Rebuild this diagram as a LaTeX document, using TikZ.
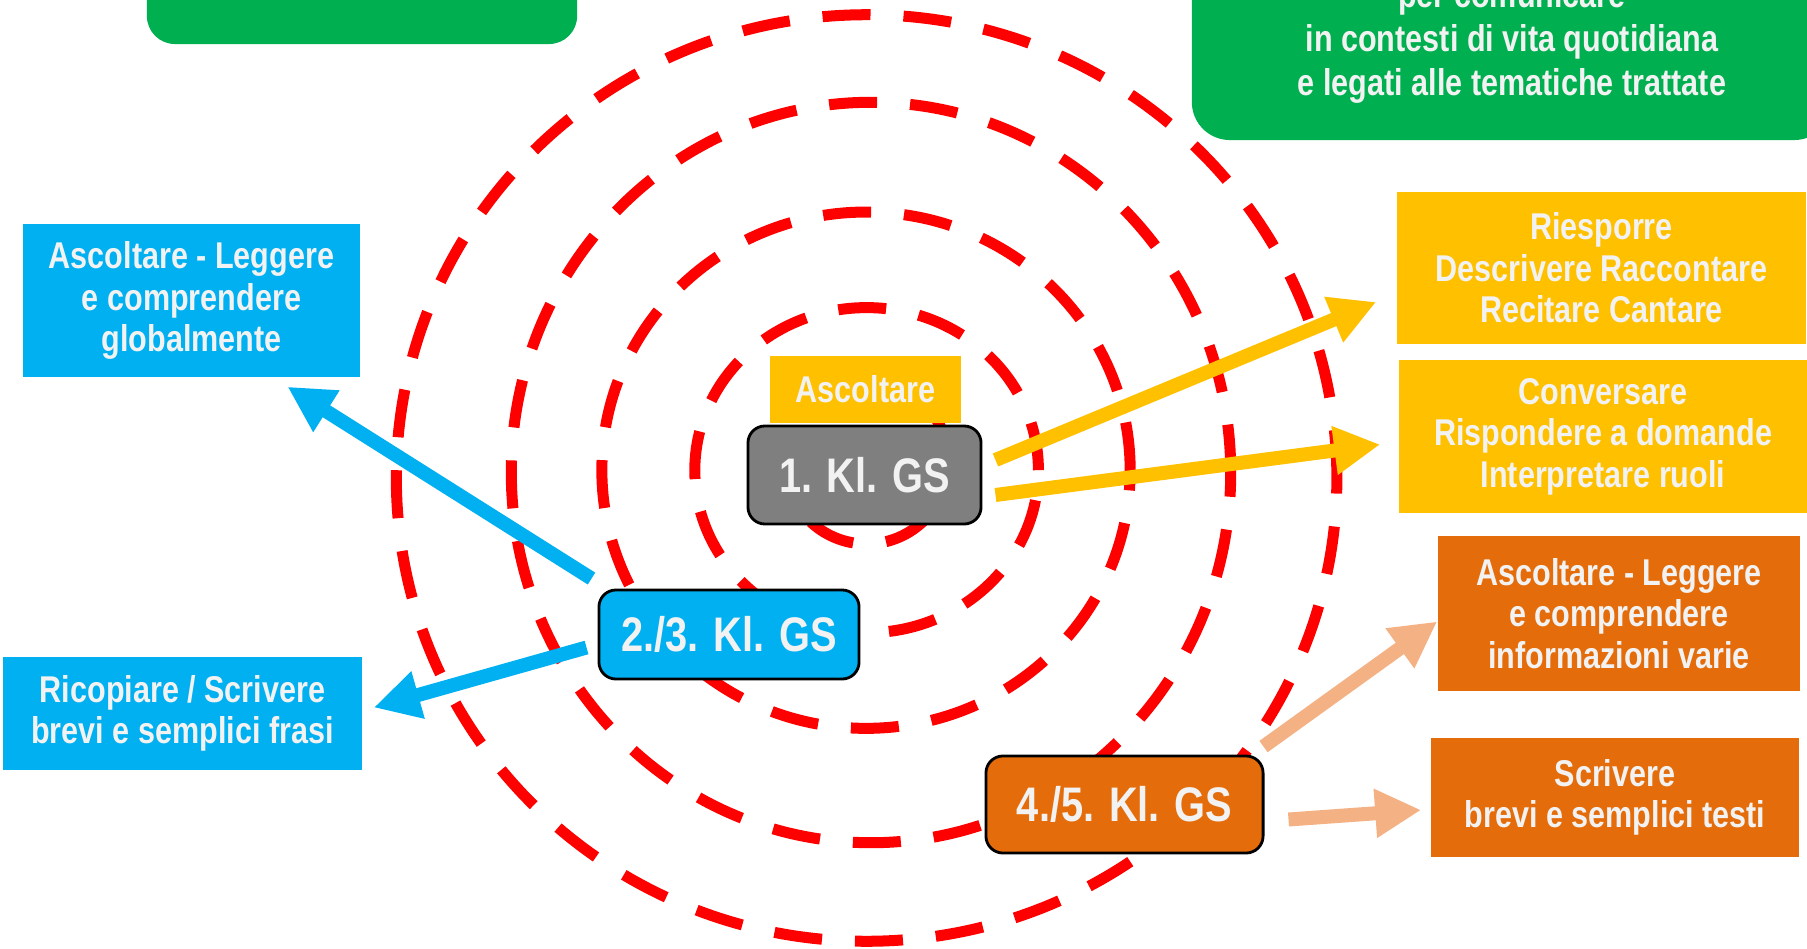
\documentclass[tikz,border=0pt]{standalone}
\usepackage{fontspec}
\setmainfont{Liberation Sans}[FakeStretch=0.82]
\usepackage{tikz}
\usetikzlibrary{arrows.meta}
\definecolor{boxgreen}{HTML}{00B050}
\definecolor{boxblue}{HTML}{00B0F0}
\definecolor{boxyellow}{HTML}{FFC000}
\definecolor{boxorange}{HTML}{E46C0A}
\definecolor{lightorange}{HTML}{F4B183}
\definecolor{boxgray}{HTML}{7F7F7F}
\definecolor{lighttext}{HTML}{F2F2F2}
\tikzstyle{ring} = [draw=red, line width=0.11cm, dash pattern=on 0.48cm off 0.33cm]
\tikzstyle{textbox} = [align=center, text=lighttext, inner sep=0pt, font=\bfseries\fontsize{10.6}{11.8}\selectfont]
\tikzstyle{classbox} = [align=center, text=lighttext, draw=black, line width=0.8pt, rounded corners=0.17cm, inner sep=0pt, font=\bfseries\fontsize{13.8}{16}\selectfont]
\tikzstyle{bigarrow} = [line width=0.14cm, -{Triangle[length=0.46cm,width=0.46cm]}]

\begin{document}
\begin{tikzpicture}[x=0.01cm, y=-0.01cm]
\useasboundingbox (0,0) rectangle (1807,949);
\clip (0,0) rectangle (1807,949);

% dashed rings
\draw[ring] (866.6,462.1) circle [radius=0.818cm];
\draw[ring] (866.6,470.2) ellipse [x radius=1.717cm, y radius=1.625cm];
\draw[ring] (866,470.2) ellipse [x radius=2.64cm, y radius=2.58cm];
\draw[ring] (871,472.5) ellipse [x radius=3.595cm, y radius=3.70cm];
\draw[ring] (866.6,478) ellipse [x radius=4.70cm, y radius=4.63cm];

% green boxes, cut at the top
\node[fill=boxgreen, rounded corners=0.28cm, minimum width=4.30cm, minimum height=1.2cm] (topleft) at (362,-16) {};
\node[textbox, fill=boxgreen, rounded corners=0.38cm, minimum width=6.4cm, minimum height=1.96cm, font=\bfseries\fontsize{10.6}{12.5}\selectfont] (topright) at (1512,42) {per comunicare\\in contesti di vita quotidiana\\e legati alle tematiche trattate};

% left
\node[textbox, fill=boxblue, minimum width=3.37cm, minimum height=1.53cm] (leggereglobal) at (191.5,300.5) {Ascoltare - Leggere\\e comprendere\\globalmente};
\node[textbox, fill=boxblue, minimum width=3.59cm, minimum height=1.13cm] (ricopiare) at (182.5,713.5) {Ricopiare / Scrivere\\brevi e semplici frasi};

% classes
\node[textbox, fill=boxyellow, minimum width=1.91cm, minimum height=0.67cm] (ascoltare) at (865.5,389.5) {Ascoltare};
\node[classbox, fill=boxgray, minimum width=2.33cm, minimum height=0.98cm] (one) at (864.5,475) {1. Kl. GS};
\node[classbox, fill=boxblue, minimum width=2.60cm, minimum height=0.89cm] (twothree) at (729,634.5) {2./3. Kl. GS};
\node[classbox, fill=boxorange, minimum width=2.77cm, minimum height=0.97cm] (fourfive) at (1124.5,804.5) {4./5. Kl. GS};

% right
\node[textbox, fill=boxyellow, minimum width=4.09cm, minimum height=1.52cm] (riesporre) at (1601.5,268) {Riesporre\\Descrivere Raccontare\\Recitare Cantare};
\node[textbox, fill=boxyellow, minimum width=4.08cm, minimum height=1.53cm] (conversare) at (1603,436.5) {Conversare\\Rispondere a domande\\Interpretare ruoli};
\node[textbox, fill=boxorange, minimum width=3.62cm, minimum height=1.55cm] (informazioni) at (1619,613.5) {Ascoltare - Leggere\\e comprendere\\informazioni varie};
\node[textbox, fill=boxorange, minimum width=3.68cm, minimum height=1.19cm] (scrivere) at (1615,797.5) {Scrivere\\brevi e semplici testi};

% arrows
\draw[bigarrow, boxblue] ([shift={(-6,-10)}]twothree.north west) -- ([shift={(96,9)}]leggereglobal.south);
\draw[bigarrow, boxblue] ([shift={(-11,13)}]twothree.west) -- ([shift={(11,-6)}]ricopiare.east);
\draw[bigarrow, boxyellow] ([shift={(13,-15)}]one.east) -- ([shift={(-20,34)}]riesporre.west);
\draw[bigarrow, boxyellow] ([shift={(13,20)}]one.east) -- ([shift={(-18,8)}]conversare.west);
\draw[bigarrow, lightorange] ([shift={(-1,-8)}]fourfive.north east) -- ([shift={(0,8)}]informazioni.west);
\draw[bigarrow, lightorange] ([shift={(24,15)}]fourfive.east) -- ([shift={(-9,12.5)}]scrivere.west);
\end{tikzpicture}
\end{document}
